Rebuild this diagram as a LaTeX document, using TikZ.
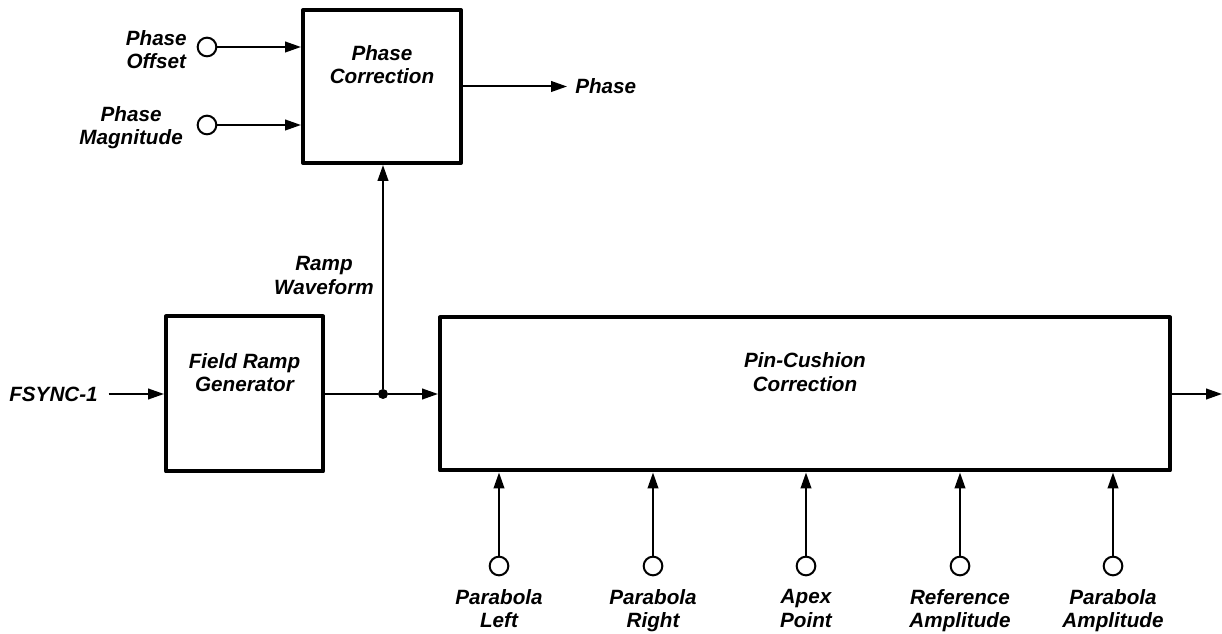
\documentclass[tikz,border=0pt]{standalone}
\usepackage{fontspec}
\setmainfont{Liberation Sans}
\usetikzlibrary{arrows.meta,calc}
\begin{document}
\begin{tikzpicture}[x=0.75pt,y=-0.75pt,
  blk/.style={draw, line width=3pt, line join=round, inner sep=0pt},
  conn/.style={line width=1.5pt, -{Triangle[length=12pt,width=8pt]}},
  wire/.style={line width=1.5pt},
  port/.style={circle, draw, line width=1.5pt, minimum size=14pt, inner sep=0pt},
  lbl/.style={font=\fontsize{15.5}{17.5}\selectfont\bfseries\itshape, align=center, inner sep=0pt,
    execute at begin node=\strut, execute at end node=\strut},
  jdot/.style={circle, fill, minimum size=7.5pt, inner sep=0pt}]
\useasboundingbox (0,0) rectangle (1222,634);

% blocks
\node[blk, minimum width=118.5pt, minimum height=114.75pt] (pcor) at (382,86.5) {};
\node[lbl] (pcort) at (382,68) {Phase\\Correction};
\node[blk, minimum width=117.75pt, minimum height=116.25pt] (frg) at (244.5,394) {};
\node[lbl] (frgt) at (244.5,376) {Field Ramp\\Generator};
\node[blk, minimum width=547.5pt, minimum height=114.75pt] (pin) at (805,394) {};
\node[lbl] (pint) at (805,375.5) {Pin-Cushion\\Correction};

% phase inputs
\node[port] (poff) at (207,47) {};
\node[lbl, anchor=east] (pofft) at (187,53) {Phase\\Offset};
\node[port] (pmag) at (207,125) {};
\node[lbl, anchor=east] (pmagt) at (183,129) {Phase\\Magnitude};
\draw[conn] (poff) -- (poff -| pcor.west);
\draw[conn] (pmag) -- (pmag -| pcor.west);

% phase output
\node[lbl, anchor=west] (pho) at (575,89) {Phase};
\draw[conn] (pcor.east) -- ([xshift=-6pt]pho.west |- pcor.east);

% FSYNC
\node[lbl, anchor=east] (fs) at (98,397) {FSYNC-1};
\draw[conn] ([xshift=8pt]fs.east |- frg.west) -- (frg.west);

% ramp path
\node[jdot] (jn) at (383,394) {};
\draw[wire] (frg.east) -- (jn);
\draw[conn] (jn) -- (pin.west);
\draw[conn] (jn) -- (jn |- pcor.south);
\node[lbl, anchor=east] (rw) at (374,279) {Ramp\\Waveform};

% output
\coordinate (out) at (1222,394);
\draw[conn] (pin.east) -- (out);

% bottom inputs
\foreach \n/\x/\t in {a/499/{Parabola\\Left}, b/653/{Parabola\\Right}, c/806/{Apex\\Point}, d/960/{Reference\\Amplitude}, e/1113/{Parabola\\Amplitude}} {
  \node[port] (in\n) at (\x,566) {};
  \node[lbl] (in\n t) at (\x,612) {\t};
  \draw[conn] (in\n) -- (in\n |- pin.south);
}
\end{tikzpicture}
\end{document}
